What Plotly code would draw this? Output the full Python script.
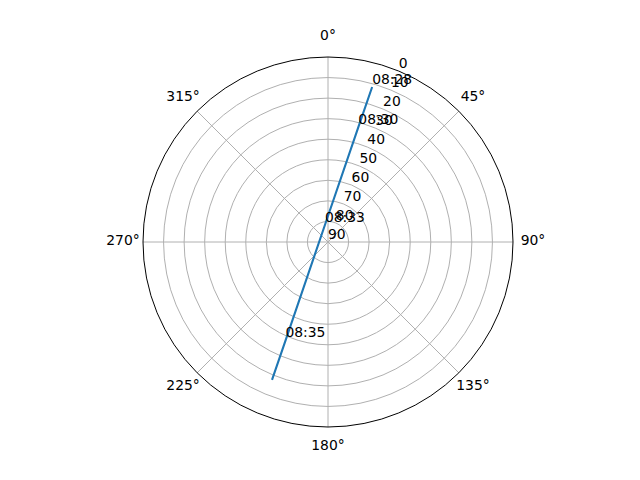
import plotly.graph_objects as go

# Satellite pass: time, azimuth (deg), elevation (deg)
times = ["08:28", "08:30", "08:33", "08:35", "08:36"]
labels = ["08:28", "08:30", "08:33", "08:35", ""]
azimuth = [15.9, 14.8, 349.7, 203.3, 202.1]
elevation = [11.6, 32.2, 81.6, 37.6, 17.6]

r_ticks = [0, 10, 20, 30, 40, 50, 60, 70, 80, 90]
theta_ticks = [0, 45, 90, 135, 180, 225, 270, 315]
R_MAX = 90  # outer edge = 0 deg elevation, centre = 90 deg

def to_r(v):
    return R_MAX - v

r_plot = [to_r(e) for e in elevation]
FONT = dict(family="DejaVu Sans", size=13.9, color="black")

fig = go.Figure()
fig.add_trace(go.Scatterpolar(
    r=r_plot, theta=azimuth, mode="lines",
    line=dict(color="#1f77b4", width=2.1),
    hoverinfo="skip", showlegend=False,
))
# time annotations
fig.add_trace(go.Scatterpolar(
    r=r_plot[:4], theta=azimuth[:4], mode="text",
    text=labels[:4], textposition="top right",
    textfont=FONT, showlegend=False, hoverinfo="skip", cliponaxis=False,
))
# radial tick labels (drawn at 22.5 deg like the reference)
fig.add_trace(go.Scatterpolar(
    r=[to_r(v) for v in r_ticks], theta=[22.5] * len(r_ticks), mode="text",
    text=[str(v) for v in r_ticks], textposition="top right",
    textfont=FONT, showlegend=False, hoverinfo="skip", cliponaxis=False,
))
# angular tick labels, on a concentric helper polar just outside the circle
fig.add_trace(go.Scatterpolar(
    r=[1] * len(theta_ticks), theta=theta_ticks, mode="text",
    text=[f"{t}°" for t in theta_ticks], textposition="middle center",
    textfont=FONT, showlegend=False, hoverinfo="skip", cliponaxis=False,
    subplot="polar2",
))

fig.update_layout(
    width=640, height=480,
    margin=dict(l=0, r=0, t=0, b=0),
    paper_bgcolor="white",
    font=FONT,
    polar=dict(
        domain=dict(x=[143/640, 513/640], y=[53/480, 423/480]),
        bgcolor="white",
        angularaxis=dict(
            rotation=90, direction="clockwise",
            tickmode="array", tickvals=theta_ticks,
            showticklabels=False,
            showgrid=True, gridcolor="#b0b0b0", gridwidth=1,
            linecolor="black", linewidth=1, showline=True,
            ticks="",
        ),
        radialaxis=dict(
            range=[0, R_MAX],
            tickmode="array",
            tickvals=[to_r(v) for v in r_ticks],
            showticklabels=False,
            angle=67.5,
            showline=False, ticks="",
            showgrid=True, gridcolor="#b0b0b0", gridwidth=1,
        ),
    ),
    polar2=dict(
        domain=dict(x=[123/640, 533/640], y=[33/480, 443/480]),
        bgcolor="rgba(0,0,0,0)",
        angularaxis=dict(rotation=90, direction="clockwise", visible=False,
                         showgrid=False, showline=False, ticks=""),
        radialaxis=dict(range=[0, 1], visible=False,
                        showgrid=False, showline=False, ticks=""),
    ),
)

fig.write_html("out.html", post_script="document.body.style.margin='0';",
               config=dict(displayModeBar=False))
